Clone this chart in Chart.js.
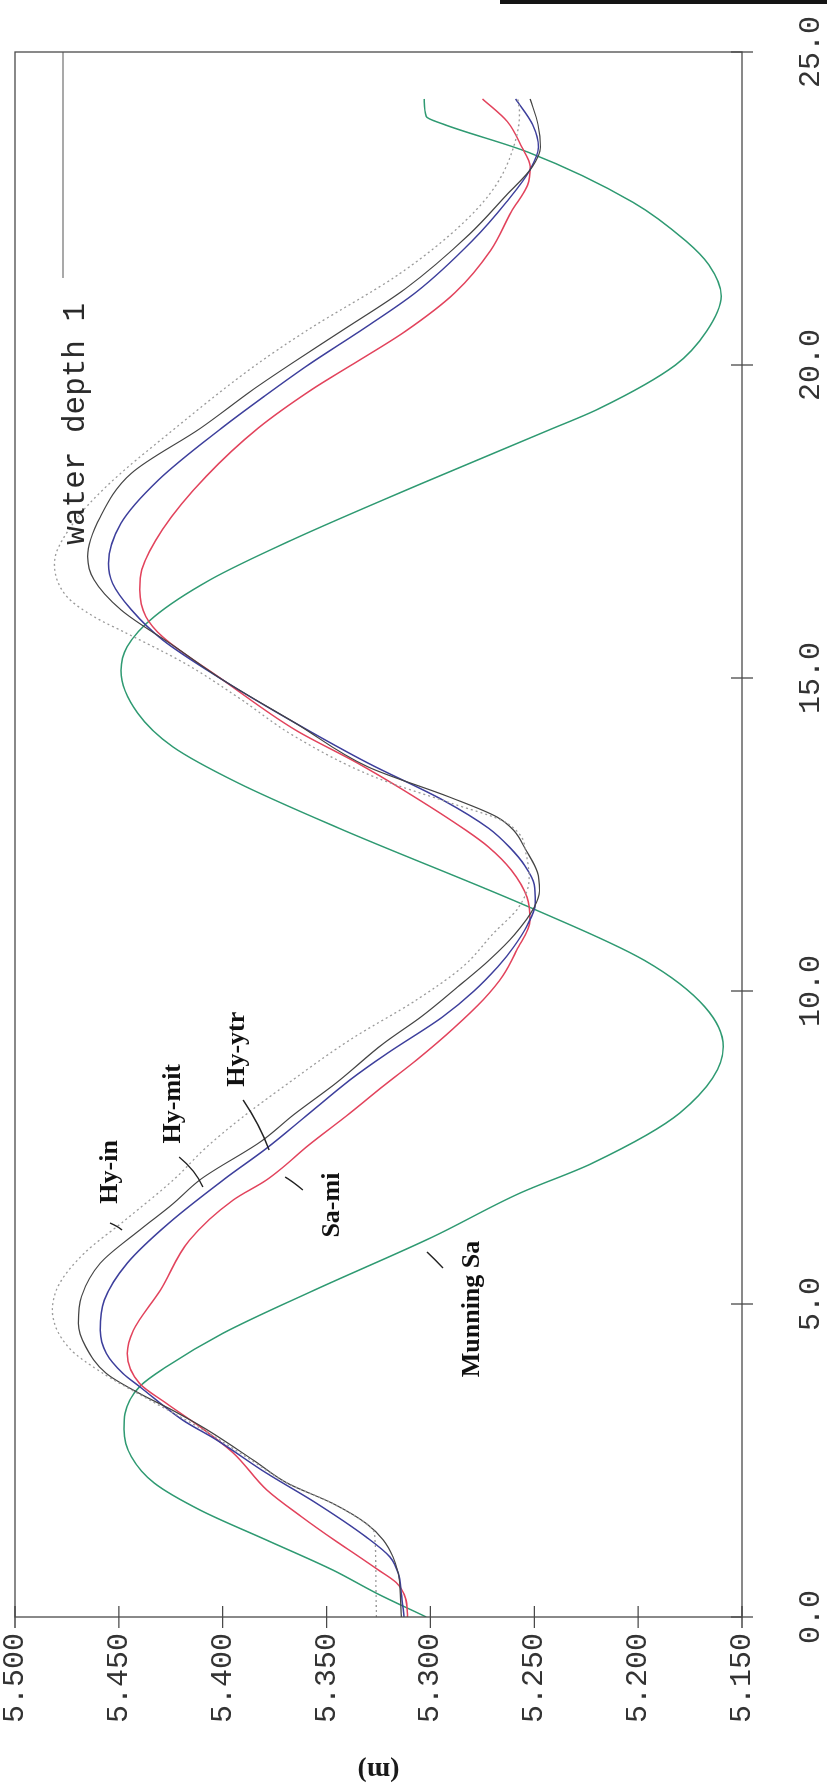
<!DOCTYPE html>
<html>
<head>
<meta charset="utf-8">
<script src="https://cdn.jsdelivr.net/npm/chart.js@4.4.1/dist/chart.umd.min.js"></script>
<style>
  html, body { margin: 0; padding: 0; background: #fff; overflow: hidden; width: 827px; height: 1791px; }
  #turn { position: absolute; left: 0; top: 0; width: 1791px; height: 827px;
          transform-origin: 0 0; transform: translate(0, 1791px) rotate(-90deg); }
  #edge { position: absolute; left: 500px; top: 0; width: 327px; height: 4px; background: #151515; }
</style>
</head>
<body>
<div id="edge"></div>
<div id="turn"><canvas id="graf" width="1791" height="827"></canvas></div>
<script>
// axis ticks
const xTicks = [0, 5, 10, 15, 20, 25];
const yTicks = [5.15, 5.2, 5.25, 5.3, 5.35, 5.4, 5.45, 5.5];

// Munning Sa (green)
const munningX = [0, 0.38, 0.75, 1.23, 1.71, 2.14, 2.56, 3.0, 3.25, 3.68, 4.0, 4.53, 5.22, 6.07, 6.77, 7.25, 8.05, 9.11, 9.75, 10.49, 11.32, 12.6, 13.33, 13.9, 14.44, 15.12, 15.5, 15.98, 16.57, 17.2, 18.11, 18.96, 19.3, 20.0, 20.54, 21.1, 21.6, 21.98, 22.6, 23.4, 23.85, 23.97, 24.25];
const munningY = [5.302, 5.326, 5.347, 5.379, 5.411, 5.433, 5.444, 5.4475, 5.447, 5.440, 5.427, 5.40, 5.356, 5.299, 5.257, 5.222, 5.18, 5.159, 5.168, 5.197, 5.251, 5.344, 5.393, 5.424, 5.441, 5.449, 5.446, 5.433, 5.406, 5.367, 5.304, 5.243, 5.219, 5.182, 5.167, 5.160, 5.166, 5.177, 5.2025, 5.253, 5.294, 5.302, 5.303];

// Sa-mi (red)
const samiX = [0, 0.3, 0.55, 0.75, 1.0, 1.2, 1.6, 2.03, 2.62, 3.04, 3.41, 3.73, 4.21, 4.58, 5.22, 6.02, 6.66, 6.98, 7.19, 7.5, 8.05, 8.5, 8.9, 9.4, 9.86, 10.25, 10.65, 11.13, 11.5, 11.93, 12.3, 12.57, 13.21, 13.64, 14.17, 14.97, 15.66, 15.98, 16.41, 16.73, 17.37, 18.22, 18.99, 19.61, 20.02, 20.54, 21.16, 21.83, 22.45, 22.87, 23.17, 23.48, 23.89, 24.25];
const samiY = [5.311, 5.312, 5.3165, 5.325, 5.336, 5.345, 5.362, 5.3788, 5.3949, 5.411, 5.427, 5.44, 5.446, 5.443, 5.43, 5.416, 5.395, 5.379, 5.3708, 5.36, 5.3387, 5.322, 5.3066, 5.289, 5.2746, 5.265, 5.2585, 5.2521, 5.2535, 5.261, 5.272, 5.283, 5.313, 5.335, 5.365, 5.40, 5.429, 5.437, 5.44, 5.439, 5.429, 5.408, 5.383, 5.357, 5.337, 5.312, 5.288, 5.271, 5.261, 5.2533, 5.252, 5.256, 5.263, 5.2749];

// Hy-ytr (blue)
const ytrX = [0, 0.38, 0.7, 0.96, 1.28, 1.82, 2.3, 2.83, 3.14, 3.68, 3.89, 4.21, 4.58, 5.06, 5.65, 6.29, 7.0, 7.49, 8.0, 8.58, 9.0, 9.59, 10.0, 10.39, 10.7, 11.03, 11.4, 11.7, 12.0, 12.3, 12.6, 13.05, 13.64, 14.28, 14.97, 15.61, 16.09, 16.51, 16.83, 17.47, 18.16, 18.99, 19.5, 20.02, 20.54, 21.16, 21.98, 22.6, 23.12, 23.48, 23.84, 24.25];
const ytrY = [5.3127, 5.314, 5.3155, 5.3195, 5.331, 5.355, 5.379, 5.403, 5.419, 5.44, 5.448, 5.456, 5.459, 5.457, 5.446, 5.426, 5.399, 5.3788, 5.36, 5.3387, 5.321, 5.294, 5.279, 5.2675, 5.26, 5.2537, 5.2495, 5.25, 5.2545, 5.262, 5.272, 5.294, 5.33, 5.365, 5.40, 5.429, 5.444, 5.453, 5.455, 5.449, 5.431, 5.4006, 5.38, 5.358, 5.334, 5.307, 5.28, 5.2635, 5.252, 5.248, 5.2508, 5.259];

// Hy-mit (dark)
const mitX = [0, 0.48, 0.7, 0.96, 1.23, 1.49, 1.81, 2.14, 2.5, 3.0, 3.3, 3.57, 3.89, 4.32, 4.69, 5.12, 5.65, 6.18, 6.6, 6.99, 7.61, 8.02, 8.54, 9.16, 9.6, 10.09, 10.5, 10.9, 11.34, 11.6, 11.9, 12.25, 12.57, 12.78, 13.1, 13.58, 14.28, 14.97, 15.5, 16.09, 16.57, 16.94, 17.57, 18.27, 18.99, 19.61, 20.02, 20.54, 21.22, 22.09, 22.71, 23.17, 23.48, 23.84, 24.25];
const mitY = [5.314, 5.3147, 5.3155, 5.318, 5.3227, 5.3307, 5.3468, 5.369, 5.385, 5.408, 5.424, 5.44, 5.456, 5.466, 5.4695, 5.468, 5.459, 5.44, 5.424, 5.4107, 5.381, 5.366, 5.345, 5.3227, 5.304, 5.286, 5.2715, 5.2595, 5.25, 5.2475, 5.2485, 5.254, 5.26, 5.268, 5.291, 5.33, 5.365, 5.40, 5.423, 5.449, 5.462, 5.465, 5.459, 5.444, 5.4107, 5.3853, 5.367, 5.343, 5.312, 5.2812, 5.2635, 5.2508, 5.247, 5.2482, 5.252];

// Hy-in (dotted grey)
const inX = [0, 0.7, 1.35, 1.49, 1.81, 2.14, 2.5, 3.0, 3.5, 3.9, 4.3, 4.9, 5.3, 5.8, 6.34, 6.99, 7.5, 7.97, 8.47, 9.22, 9.86, 10.4, 10.92, 11.34, 11.8, 12.2, 12.5, 12.73, 13.0, 13.42, 14.06, 14.7, 15.23, 15.71, 15.98, 16.3, 16.83, 17.47, 18.06, 18.96, 19.97, 20.54, 21.47, 22.28, 22.87, 23.48, 24.03, 24.25];
const inY = [5.326, 5.3263, 5.327, 5.331, 5.3468, 5.369, 5.386, 5.41, 5.437, 5.458, 5.474, 5.482, 5.479, 5.467, 5.447, 5.4235, 5.408, 5.391, 5.3708, 5.3387, 5.3066, 5.284, 5.2697, 5.2575, 5.2525, 5.254, 5.257, 5.266, 5.29, 5.327, 5.365, 5.393, 5.418, 5.446, 5.462, 5.475, 5.481, 5.472, 5.456, 5.424, 5.3853, 5.36, 5.3143, 5.2839, 5.2685, 5.26, 5.2571, 5.258];

function pares(xs, ys) {
    return xs.map((x, i) => ({ x: x, y: ys[i] }));
}

// box with ticks crossing the axes
const marco = {
    id: 'marco',
    afterDatasetsDraw(chart) {
        const { ctx, chartArea: a, scales: { x, y } } = chart;
        ctx.save();
        ctx.strokeStyle = '#4a4a4a';
        ctx.lineWidth = 1.3;
        ctx.strokeRect(a.left, a.top, a.right - a.left, a.bottom - a.top);
        ctx.beginPath();
        xTicks.forEach(v => {
            const p = x.getPixelForValue(v);
            ctx.moveTo(p, a.bottom - 11);
            ctx.lineTo(p, a.bottom + 11);
        });
        yTicks.forEach(v => {
            const p = y.getPixelForValue(v);
            ctx.moveTo(a.left - 11, p);
            ctx.lineTo(a.left + 11, p);
        });
        ctx.stroke();
        ctx.restore();
    }
};

// curve names, leader strokes and the "water depth 1" key
const notas = {
    id: 'notas',
    afterDatasetsDraw(chart) {
        const { ctx, scales: { x, y } } = chart;
        const px = v => x.getPixelForValue(v);
        const py = v => y.getPixelForValue(v);
        ctx.save();

        ctx.fillStyle = '#111';
        ctx.font = 'bold 26px "Liberation Serif"';
        ctx.textAlign = 'center';
        ctx.textBaseline = 'alphabetic';
        [
            ['Hy-in', 7.11, 5.4509],
            ['Hy-mit', 8.2, 5.4206],
            ['Hy-ytr', 9.07, 5.3898],
            ['Sa-mi', 6.58, 5.344],
            ['Munning Sa', 4.92, 5.2766]
        ].forEach(([t, a, b]) => ctx.fillText(t, px(a), py(b)));

        ctx.strokeStyle = '#222';
        ctx.lineWidth = 1.4;
        [
            [[6.294, 5.4543], [6.24, 5.4505], [6.182, 5.4485]],
            [[7.348, 5.421], [7.141, 5.4133], [6.869, 5.4095]],
            [[8.259, 5.3902], [7.859, 5.3821], [7.46, 5.3777]],
            [[7.029, 5.370], [6.965, 5.3667], [6.821, 5.3614]],
            [[5.831, 5.3017], [5.70, 5.2975], [5.575, 5.294]]
        ].forEach(([p0, p1, p2]) => {
            ctx.beginPath();
            ctx.moveTo(px(p0[0]), py(p0[1]));
            ctx.quadraticCurveTo(px(p1[0]), py(p1[1]), px(p2[0]), py(p2[1]));
            ctx.stroke();
        });

        ctx.font = '31px "Liberation Mono"';
        ctx.textAlign = 'left';
        ctx.fillStyle = '#2a2a2a';
        ctx.fillText('water depth 1', px(17.13), py(5.4668));
        ctx.strokeStyle = '#555';
        ctx.lineWidth = 1.2;
        ctx.beginPath();
        ctx.moveTo(px(21.39), py(5.4769));
        ctx.lineTo(px(25), py(5.4769));
        ctx.stroke();

        ctx.restore();
    }
};

const ctx = document.getElementById('graf').getContext('2d');
new Chart(ctx, {
    type: 'line',
    data: {
        datasets: [
            { label: 'Hy-in', data: pares(inX, inY), borderColor: '#9a9a9a', borderWidth: 1.3, borderDash: [2, 3] },
            { label: 'Hy-mit', data: pares(mitX, mitY), borderColor: '#444444', borderWidth: 1.2 },
            { label: 'Hy-ytr', data: pares(ytrX, ytrY), borderColor: '#3d3f9c', borderWidth: 1.5 },
            { label: 'Sa-mi', data: pares(samiX, samiY), borderColor: '#e2435c', borderWidth: 1.5 },
            { label: 'Munning Sa', data: pares(munningX, munningY), borderColor: '#2f9a72', borderWidth: 1.5 }
        ]
    },
    options: {
        responsive: false,
        animation: false,
        devicePixelRatio: 1,
        layout: { padding: { left: 0, right: 52, top: 15, bottom: 0 } },
        elements: { point: { radius: 0 }, line: { fill: false, cubicInterpolationMode: 'monotone' } },
        plugins: {
            legend: { display: false },
            tooltip: { enabled: false }
        },
        scales: {
            x: {
                type: 'linear',
                min: 0,
                max: 25,
                grid: { display: false, drawTicks: false },
                border: { display: false },
                afterBuildTicks: s => { s.ticks = xTicks.map(v => ({ value: v })); },
                afterFit: s => { s.height = 85; s.paddingLeft = 0; s.paddingRight = 0; },
                ticks: {
                    padding: 51,
                    autoSkip: false,
                    maxRotation: 0,
                    color: '#333',
                    font: { family: 'Liberation Mono', size: 30 },
                    callback: v => Number(v).toFixed(1)
                }
            },
            y: {
                type: 'linear',
                min: 5.15,
                max: 5.5,
                grid: { display: false, drawTicks: false },
                border: { display: false },
                afterBuildTicks: s => { s.ticks = yTicks.map(v => ({ value: v })); },
                afterFit: s => { s.width = 174; s.paddingTop = 0; s.paddingBottom = 0; },
                ticks: {
                    padding: 16,
                    autoSkip: false,
                    color: '#333',
                    font: { family: 'Liberation Mono', size: 30 },
                    callback: v => Number(v).toFixed(3)
                },
                title: {
                    display: true,
                    text: '(m)',
                    color: '#1a1a1a',
                    font: { family: 'Liberation Serif', size: 28, weight: 'bold' },
                    padding: { top: 4, bottom: 0 }
                }
            }
        }
    },
    plugins: [marco, notas]
});
</script>
</body>
</html>
